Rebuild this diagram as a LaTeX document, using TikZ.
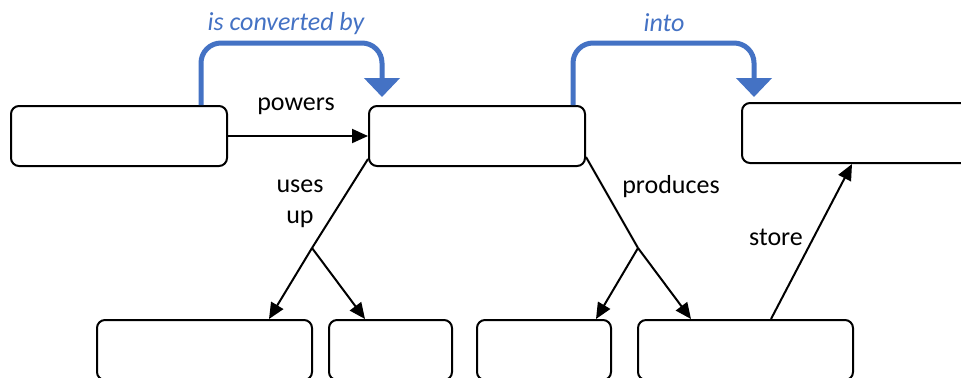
\documentclass[tikz,border=0pt]{standalone}
\usepackage{fontspec}
\setmainfont{Carlito}
\usepackage{tikz}
\usetikzlibrary{arrows.meta,positioning,calc}
\definecolor{cblue}{HTML}{4472C4}
\tikzset{
  box/.style={draw,line width=1pt,rounded corners=4pt,minimum width=#1,minimum height=30pt,inner sep=0pt},
  box/.default={60pt},
  arr/.style={-{Triangle[length=8pt,width=7pt]},line width=1pt},
  lnk/.style={line width=1pt},
  conv/.style={-{Triangle[length=9.5pt,width=17.5pt]},line width=2.5pt,cblue,rounded corners=10pt},
  lbl/.style={font=\fontsize{13}{15.5}\selectfont,inner sep=0pt},
  clbl/.style={inner sep=0pt,text=cblue,font=\fontsize{13}{15.5}\selectfont\itshape},
}
\begin{document}
\begin{tikzpicture}[x=0.5pt,y=-0.5pt]
 \useasboundingbox (0,0) rectangle (961,377);
 \node[box=108pt] (light) at (119,136){};
 \node[box=108pt] (photo) at (477,136){};
 \node[box=117pt] (chem) at (859,133){};
 \node[box=107.5pt] (co2) at (204.5,350){};
 \node[box=61.5pt] (water) at (390.5,350){};
 \node[box=67pt] (oxy) at (544,350){};
 \node[box=107.5pt] (gluc) at (745.5,350){};
 \coordinate (u) at (312,248); \coordinate (p) at (638,248);
 \draw[arr] (light) -- (photo); \node[lbl] (pw) at (296,106){powers};
 \draw[conv] ([xshift=-13.5pt]light.north east) -- ++(0,-62) -| ([xshift=7pt,yshift=4pt]photo.north west);
 \node[clbl] (cv) at (286,24){is converted by};
 \draw[conv] ([xshift=-6.5pt]photo.north east) -- ++(0,-62) -| ([xshift=6.5pt,yshift=2.5pt]chem.north west);
 \node[clbl] (it) at (664,23){into};
 \draw[lnk] ([yshift=4pt]photo.south west) -- (u);
 \draw[arr] (u) -- ([xshift=-22pt]co2.north east); \draw[arr] (u) -- ([xshift=18.5pt]water.north west);
 \node[lbl,align=center] (uu) at (300,204){uses\\up};
 \draw[lnk] ([yshift=5pt]photo.south east) -- (p);
 \draw[arr] (p) -- ([xshift=-8pt]oxy.north east); \draw[arr] (p) -- ([xshift=27pt]gluc.north west);
 \node[lbl] (pr) at (671,187){produces};
 \draw[arr] ([xshift=12.75pt]gluc.north) -- ([xshift=55.5pt]chem.south west);
 \node[lbl] (st) at (776,237){store};
\end{tikzpicture}
\end{document}
